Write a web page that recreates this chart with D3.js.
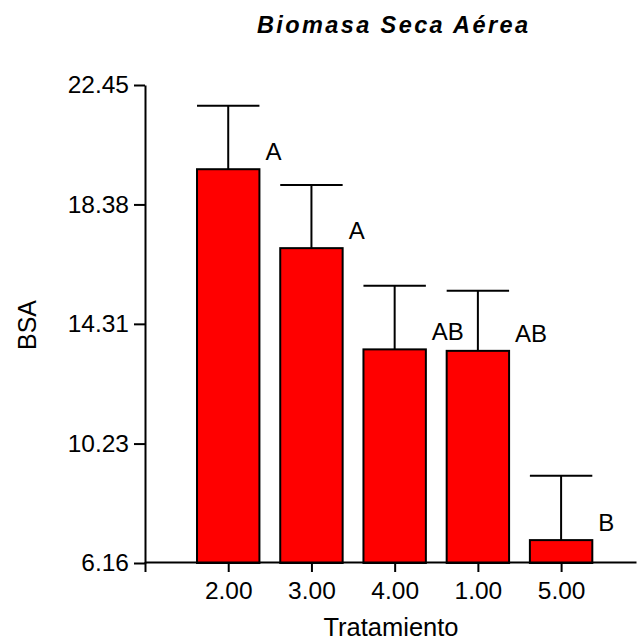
<!DOCTYPE html>
<html>
<head>
<meta charset="utf-8">
<script src="https://cdn.jsdelivr.net/npm/d3@7"></script>
<style>
  html, body { margin: 0; padding: 0; background: #fff; }
  svg { display: block; font-family: Arial, "Liberation Sans", sans-serif; }
</style>
</head>
<body>
<script>
const categories = ["2.00", "3.00", "4.00", "1.00", "5.00"];
const means = [19.58, 16.89, 13.44, 13.39, 6.94];
const errors = [2.16, 2.15, 2.17, 2.05, 2.19];
const letters = ["A", "A", "AB", "AB", "B"];
const yTicks = [6.16, 10.23, 14.31, 18.38, 22.45];

const W = 638, H = 644;
const svg = d3.select("body").append("svg").attr("width", W).attr("height", H);

const x = d3.scaleLinear().domain([0, 5.9]).range([145, 636]);
const y = d3.scaleLinear().domain([6.16, 22.45]).range([563, 85]);
const barW = x(0.75) - x(0);

// bars
const g = svg.append("g");
g.selectAll("rect.bar").data(means).join("rect")
  .attr("class", "bar")
  .attr("x", (d, i) => x(i + 1) - barW / 2)
  .attr("y", d => y(d))
  .attr("width", barW)
  .attr("height", d => y(6.16) - y(d))
  .attr("fill", "#ff0000")
  .attr("stroke", "#000")
  .attr("stroke-width", 2);

// error bars (upper)
g.selectAll("line.err").data(means).join("line")
  .attr("class", "err")
  .attr("x1", (d, i) => x(i + 1)).attr("x2", (d, i) => x(i + 1))
  .attr("y1", d => y(d))
  .attr("y2", (d, i) => y(d + errors[i]))
  .attr("stroke", "#000").attr("stroke-width", 2);
g.selectAll("line.cap").data(means).join("line")
  .attr("class", "cap")
  .attr("x1", (d, i) => x(i + 1) - barW / 2)
  .attr("x2", (d, i) => x(i + 1) + barW / 2)
  .attr("y1", (d, i) => y(d + errors[i]))
  .attr("y2", (d, i) => y(d + errors[i]))
  .attr("stroke", "#000").attr("stroke-width", 2);

// letters
g.selectAll("text.lab").data(means).join("text")
  .attr("class", "lab")
  .attr("x", (d, i) => x(i + 1) + barW / 2 + 6)
  .attr("y", d => y(d) - 9)
  .attr("font-size", 24)
  .attr("fill", "#000")
  .text((d, i) => letters[i]);

// y axis
const yAxis = svg.append("g")
  .attr("transform", `translate(${x(0)},0)`)
  .call(d3.axisLeft(y).tickValues(yTicks).tickFormat(d => d.toFixed(2))
    .tickSize(11).tickSizeOuter(0).tickPadding(5));
yAxis.selectAll("path, line").attr("stroke", "#000").attr("stroke-width", 2);
yAxis.selectAll("text").attr("font-size", 24.5).attr("fill", "#000")
  .attr("font-family", "Arial, 'Liberation Sans', sans-serif");

// x axis
const xAxis = svg.append("g")
  .attr("transform", `translate(0,${y(6.16) - 1})`)
  .call(d3.axisBottom(x).tickValues([0, 1, 2, 3, 4, 5])
    .tickFormat(i => i === 0 ? "" : categories[i - 1])
    .tickSize(10).tickSizeOuter(0).tickPadding(10));
xAxis.selectAll("path, line").attr("stroke", "#000").attr("stroke-width", 2);
xAxis.selectAll("text").attr("font-size", 24.5).attr("fill", "#000")
  .attr("font-family", "Arial, 'Liberation Sans', sans-serif");

// titles
svg.append("text")
  .attr("x", 257).attr("y", 33)
  .attr("font-size", 23.5).attr("font-weight", "bold").attr("font-style", "italic")
  .attr("textLength", 271).attr("lengthAdjust", "spacing")
  .text("Biomasa Seca Aérea");

svg.append("text")
  .attr("x", 391).attr("y", 636)
  .attr("text-anchor", "middle").attr("font-size", 25.5)
  .text("Tratamiento");

svg.append("text")
  .attr("transform", "translate(36,325) rotate(-90)")
  .attr("text-anchor", "middle").attr("font-size", 25)
  .text("BSA");
</script>
</body>
</html>
